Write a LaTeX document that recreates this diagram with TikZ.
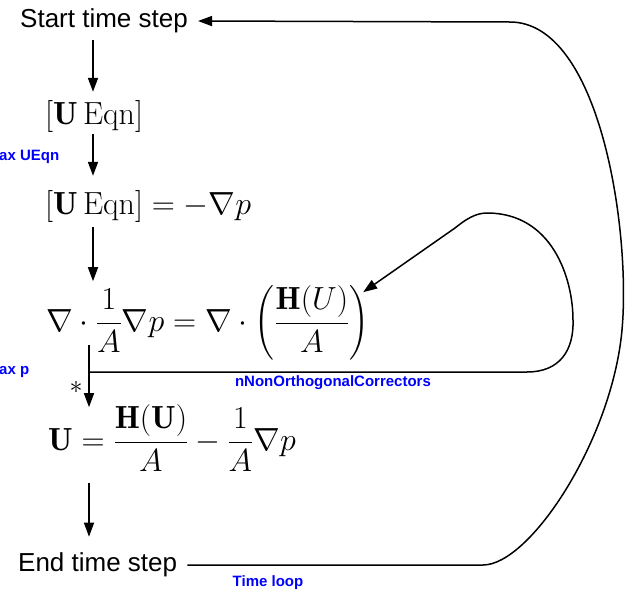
\documentclass[tikz,border=0pt]{standalone}
\usepackage{fix-cm}
\usepackage{amsmath}
\usepackage{fontspec}
\newfontfamily\arial{Liberation Sans}
\usetikzlibrary{arrows.meta}
\begin{document}
\begin{tikzpicture}[x=1pt,y=-1pt,
  lbl/.style={font=\arial\fontsize{26}{30}\selectfont, inner sep=0pt, anchor=west},
  eq/.style={font=\fontsize{32}{37}\selectfont, inner sep=0pt, anchor=base west},
  note/.style={font=\arial\bfseries\fontsize{15}{18}\selectfont, text=blue, inner sep=0pt},
  tip/.style={-{Triangle[length=14pt,width=10pt]}},
  arr/.style={tip, line width=1.6pt},
  loopline/.style={tip, line width=1.5pt}]
\useasboundingbox (0,0) rectangle (625,595);
% nodes
\node[lbl] (start) at (20,21) {Start time step};
\node[eq] (ueqn) at (45,124) {$[\mathbf{U}\,\mathrm{Eqn}]$};
\node[eq] (ueqnp) at (45,214) {$[\mathbf{U}\,\mathrm{Eqn}] = -\nabla p$};
\node[eq] (peqn) at (46,331) {$\displaystyle \nabla\cdot\frac{1}{A}\nabla p = \nabla\cdot\left(\frac{\mathbf{H}(U)}{A}\right)$};
\node[eq] (ucorr) at (48,450) {$\displaystyle \mathbf{U} = \frac{\mathbf{H}(\mathbf{U})}{A} - \frac{1}{A}\nabla p$};
\node[lbl] (end) at (18,565) {End time step};
\node[font=\fontsize{26}{30}\selectfont, inner sep=0pt] (star) at (76,387) {$*$};
\node[note] (nnc) at (333,383) {nNonOrthogonalCorrectors};
\node[note] (tl) at (268,583) {Time loop};
\node[note, anchor=west] (axu) at (-1,157) {ax UEqn};
\node[note, anchor=west] (axp) at (-1,372) {ax p};
% helper x positions
\coordinate (xa) at (93,0);
\coordinate (xb) at (89,0);
\coordinate (j) at (89,372);
% vertical arrows
\draw[arr, shorten <=7pt, shorten >=8pt] (start.south -| xa) -- (ueqn.north -| xa);
\draw[arr, shorten <=2pt, shorten >=14pt] (ueqn.south -| xa) -- (ueqnp.north -| xa);
\draw[arr, shorten <=5pt, shorten >=4pt] (ueqnp.south -| xa) -- (peqn.north -| xa);
\draw[arr, shorten <=-16pt, shorten >=-3pt] (peqn.south -| xb) -- (ucorr.north -| xb);
\draw[arr, shorten <=11pt, shorten >=16pt] (ucorr.south -| xb) -- (end.north -| xb);
% inner loop
\draw[loopline] (j) -- (527,372) .. controls (560,372) and (574,350) .. (573,320)
  .. controls (573,278) and (552,213) .. (487,213)
  .. controls (475,213) and (465,220) .. (455,228)
  -- ([shift={(-6,7)}]peqn.north east);
% outer loop
\draw[loopline] ([xshift=10pt]end.east) -- (483,565)
  .. controls (530,565) and (612,440) .. (622,330)
  .. controls (631,230) and (600,22) .. (510,22)
  -- ([xshift=10pt]start.east);
\end{tikzpicture}
\end{document}
